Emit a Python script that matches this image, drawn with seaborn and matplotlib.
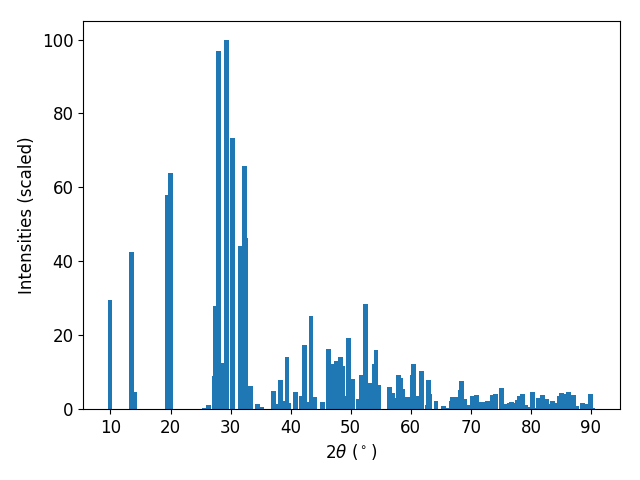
import numpy as np
import matplotlib
matplotlib.use("Agg")
import matplotlib.pyplot as plt
import seaborn as sns

# =========================
# DATA
# =========================

two_theta = [
    9.92, 13.57, 13.94, 19.53, 20.06, 25.7, 26.37, 27.33, 27.5, 28.0,
    28.6, 29.3, 30.3, 31.6, 32.3, 32.5, 33.3, 34.5, 35.2, 37.1,
    37.7, 38.3, 39.0, 39.4, 39.6, 40.8, 41.75, 42.3, 43.0, 43.4,
    44.0, 45.3, 46.25, 46.8, 47.7, 48.3, 48.6, 48.9, 49.57, 50.3,
    51.2, 51.7, 52.4, 53.2, 53.88, 54.2, 54.7, 56.4, 57.0, 57.5,
    58.0, 58.3, 58.7, 59.5, 60.2, 60.35, 60.5, 61.35, 61.7, 61.85,
    62.7, 63.0, 63.2, 64.2, 65.5, 65.9, 66.7, 66.9, 67.6, 68.3,
    68.5, 69.0, 69.7, 70.3, 71.0, 71.8, 72.3, 72.8, 73.6, 74.1,
    75.1, 75.6, 76.0, 76.4, 76.8, 77.5, 77.8, 78.1, 78.6, 79.1,
    79.5, 80.3, 80.9, 81.3, 81.9, 82.7, 83.0, 83.6, 84.2, 84.8,
    85.1, 85.7, 86.25, 87.1, 87.6, 88.6, 89.2, 89.9, 90.3,
]

intensity = [
    29.5, 42.5, 4.7, 58.0, 64.0, 0.3, 1.1, 9.0, 28.0, 97.0,
    12.5, 100.0, 73.4, 44.2, 65.8, 46.3, 6.2, 1.4, 0.6, 4.9,
    1.4, 7.9, 2.2, 14.1, 1.6, 4.6, 3.5, 17.3, 1.9, 25.2,
    3.3, 1.9, 16.3, 12.2, 13.0, 14.1, 11.7, 3.5, 19.2, 8.1,
    2.7, 9.2, 28.5, 7.0, 12.2, 16.0, 6.5, 6.0, 4.3, 3.0,
    9.2, 8.4, 5.4, 3.3, 3.5, 9.2, 12.2, 3.5, 10.0, 10.3,
    1.1, 7.9, 4.1, 2.2, 0.8, 0.3, 2.2, 3.3, 3.3, 5.1,
    7.6, 2.7, 1.1, 3.5, 3.8, 1.9, 1.9, 2.2, 3.8, 4.1,
    5.7, 1.4, 0.8, 1.6, 1.9, 1.6, 2.4, 3.5, 4.1, 1.1,
    0.5, 4.6, 0.3, 3.0, 3.8, 2.7, 1.4, 2.2, 1.6, 3.5,
    4.3, 4.1, 4.6, 3.8, 0.8, 1.6, 1.4, 4.1, 0.3,
]

bar_width = 0.8  # in degrees 2theta

# =========================
# PLOT
# =========================

plt.rcParams["font.size"] = 12

fig, ax = plt.subplots(figsize=(6.4, 4.8), dpi=100)

# seaborn scales native bar width by the smallest spacing between x values
min_step = np.diff(np.sort(two_theta)).min()

sns.barplot(
    x=two_theta,
    y=intensity,
    native_scale=True,
    width=bar_width / min_step,
    color="#1f77b4",
    saturation=1,
    errorbar=None,
    linewidth=0,
    ax=ax,
)

ax.set_xlabel(r"$2\theta$ ($^\circ$)")
ax.set_ylabel("Intensities (scaled)")

fig.subplots_adjust(left=0.130, right=0.968, top=0.956, bottom=0.148)
plt.savefig("out.png")
plt.close()
